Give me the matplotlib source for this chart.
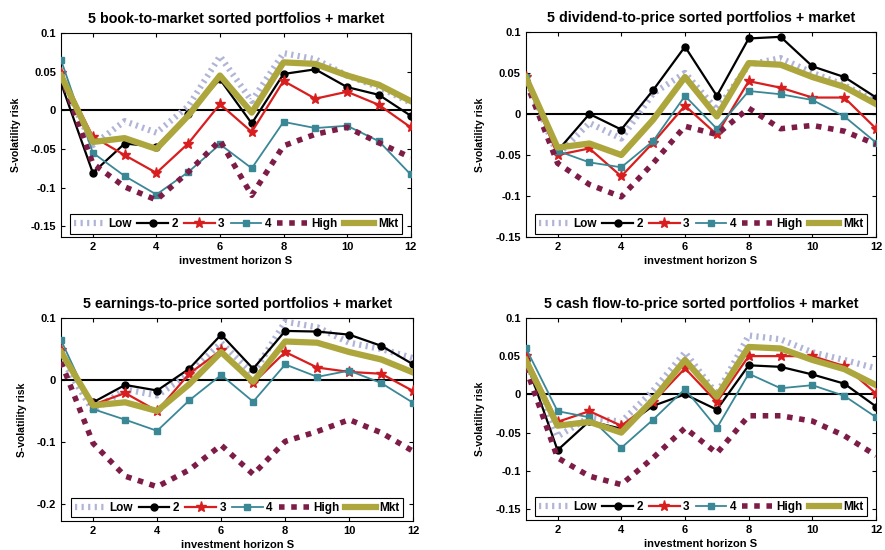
import numpy as np
import matplotlib
matplotlib.use('Agg')
import matplotlib.pyplot as plt

plt.rcParams['font.family'] = ['Liberation Sans', 'DejaVu Sans']
plt.rcParams['font.weight'] = 'bold'
plt.rcParams['axes.unicode_minus'] = False

horizon = np.arange(1, 13)

# market line is the same in every panel
mkt = [0.045, -0.041, -0.036, -0.05, -0.007, 0.045, -0.003, 0.062, 0.06, 0.045, 0.033, 0.012]

# book-to-market
bm_low = [0.04, -0.045, -0.014, -0.029, 0.005, 0.07, 0.012, 0.074, 0.066, 0.045, 0.03, 0.01]
bm_2 = [0.035, -0.081, -0.043, -0.047, -0.005, 0.04, -0.017, 0.047, 0.053, 0.03, 0.02, -0.007]
bm_3 = [0.048, -0.034, -0.058, -0.081, -0.043, 0.008, -0.028, 0.038, 0.015, 0.024, 0.007, -0.022]
bm_4 = [0.065, -0.055, -0.085, -0.109, -0.08, -0.044, -0.075, -0.015, -0.023, -0.02, -0.04, -0.083]
bm_high = [0.045, -0.069, -0.099, -0.116, -0.08, -0.039, -0.11, -0.046, -0.031, -0.022, -0.042, -0.061]

# dividend-to-price
dp_low = [0.045, -0.05, -0.011, -0.03, 0.025, 0.05, 0.005, 0.06, 0.068, 0.05, 0.035, 0.015]
dp_2 = [0.04, -0.045, 0.0, -0.019, 0.029, 0.082, 0.022, 0.092, 0.094, 0.058, 0.045, 0.02]
dp_3 = [0.045, -0.05, -0.042, -0.076, -0.035, 0.01, -0.025, 0.04, 0.032, 0.02, 0.02, -0.018]
dp_4 = [0.045, -0.045, -0.059, -0.065, -0.033, 0.022, -0.018, 0.028, 0.024, 0.017, -0.003, -0.035]
dp_high = [0.04, -0.06, -0.086, -0.101, -0.06, -0.015, -0.025, 0.007, -0.018, -0.014, -0.021, -0.037]

# earnings-to-price
ep_low = [0.035, -0.05, -0.015, -0.025, 0.01, 0.06, 0.01, 0.094, 0.085, 0.06, 0.05, 0.035]
ep_2 = [0.04, -0.036, -0.008, -0.017, 0.018, 0.073, 0.018, 0.079, 0.078, 0.073, 0.055, 0.025]
ep_3 = [0.048, -0.04, -0.021, -0.05, 0.01, 0.048, -0.005, 0.045, 0.02, 0.013, 0.01, -0.018]
ep_4 = [0.064, -0.047, -0.064, -0.082, -0.033, 0.008, -0.035, 0.025, 0.005, 0.015, -0.005, -0.037]
ep_high = [0.029, -0.102, -0.155, -0.172, -0.145, -0.105, -0.152, -0.099, -0.083, -0.064, -0.085, -0.115]

# cash flow-to-price
cp_low = [0.045, -0.055, -0.03, -0.036, 0.005, 0.055, 0.0, 0.077, 0.072, 0.055, 0.045, 0.034]
cp_2 = [0.045, -0.073, -0.035, -0.045, -0.015, 0.0, -0.02, 0.038, 0.036, 0.026, 0.014, -0.016]
cp_3 = [0.05, -0.036, -0.022, -0.041, -0.01, 0.034, -0.01, 0.05, 0.05, 0.05, 0.037, 0.001]
cp_4 = [0.061, -0.022, -0.03, -0.07, -0.033, 0.007, -0.044, 0.027, 0.008, 0.012, -0.002, -0.03]
cp_high = [0.035, -0.083, -0.107, -0.118, -0.083, -0.044, -0.077, -0.028, -0.028, -0.035, -0.054, -0.08]

titles = ['5 book-to-market sorted portfolios + market',
          '5 dividend-to-price sorted portfolios + market',
          '5 earnings-to-price sorted portfolios + market',
          '5 cash flow-to-price sorted portfolios + market']
panels = [
    (bm_low, bm_2, bm_3, bm_4, bm_high),
    (dp_low, dp_2, dp_3, dp_4, dp_high),
    (ep_low, ep_2, ep_3, ep_4, ep_high),
    (cp_low, cp_2, cp_3, cp_4, cp_high),
]
ylims = [(-0.164, 0.1), (-0.15, 0.1), (-0.227, 0.1), (-0.164, 0.1)]
yticks = [[-0.15, -0.1, -0.05, 0, 0.05, 0.1],
          [-0.15, -0.1, -0.05, 0, 0.05, 0.1],
          [-0.2, -0.1, 0, 0.1],
          [-0.15, -0.1, -0.05, 0, 0.05, 0.1]]
# axes boxes in figure fractions
boxes = [(0.069, 0.569, 0.395, 0.371),
         (0.594, 0.569, 0.396, 0.373),
         (0.069, 0.053, 0.398, 0.369),
         (0.594, 0.055, 0.396, 0.367)]

fig = plt.figure(figsize=(8.85, 5.5), dpi=100)

for k in range(4):
    ax = fig.add_axes(boxes[k])
    low, p2, p3, p4, high = panels[k]
    ax.axhline(0, color='black', lw=1.5, zorder=1)
    ax.plot(horizon, low, color='#b0b4d6', lw=4.5, ls=(0, (0.35, 0.7)),
            dash_capstyle='butt', label='Low', zorder=2)
    ax.plot(horizon, p2, color='black', lw=1.6, marker='o', ms=5, label='2', zorder=3)
    ax.plot(horizon, p3, color='#d81e1e', lw=1.6, marker='*', ms=8, label='3', zorder=3)
    ax.plot(horizon, p4, color='#3a8796', lw=1.3, marker='s', ms=4, label='4', zorder=3)
    ax.plot(horizon, high, color='#7d1c46', lw=4, ls=(0, (1, 1.2)),
            dash_capstyle='butt', label='High', zorder=3)
    ax.plot(horizon, mkt, color='#aca63c', lw=4.5, label='Mkt', zorder=4)

    ax.set_xlim(1, 12)
    ax.set_ylim(*ylims[k])
    ax.set_xticks([2, 4, 6, 8, 10, 12])
    ax.set_yticks(yticks[k])
    ax.set_yticklabels(['%g' % t for t in yticks[k]])
    ax.tick_params(direction='in', top=True, right=True, labelsize=8, length=3)
    for lab in ax.get_xticklabels() + ax.get_yticklabels():
        lab.set_fontweight('bold')
    ax.set_title(titles[k], fontsize=10.3, fontweight='bold', pad=7)
    ax.set_xlabel('investment horizon S', fontsize=8, fontweight='bold', labelpad=3)
    ax.set_ylabel('S-volatility risk', fontsize=7.5, fontweight='bold', labelpad=7)
    for sp in ax.spines.values():
        sp.set_linewidth(0.8)

    leg = ax.legend(loc='lower center', ncol=6, fontsize=8.5, frameon=True,
                    fancybox=False, edgecolor='black', framealpha=1,
                    handlelength=2.6, handletextpad=0.3, columnspacing=0.5,
                    borderpad=0.3, borderaxespad=0.3)
    leg.get_frame().set_linewidth(0.8)
    for t in leg.get_texts():
        t.set_fontweight('bold')

fig.savefig('out.png', dpi=100)
